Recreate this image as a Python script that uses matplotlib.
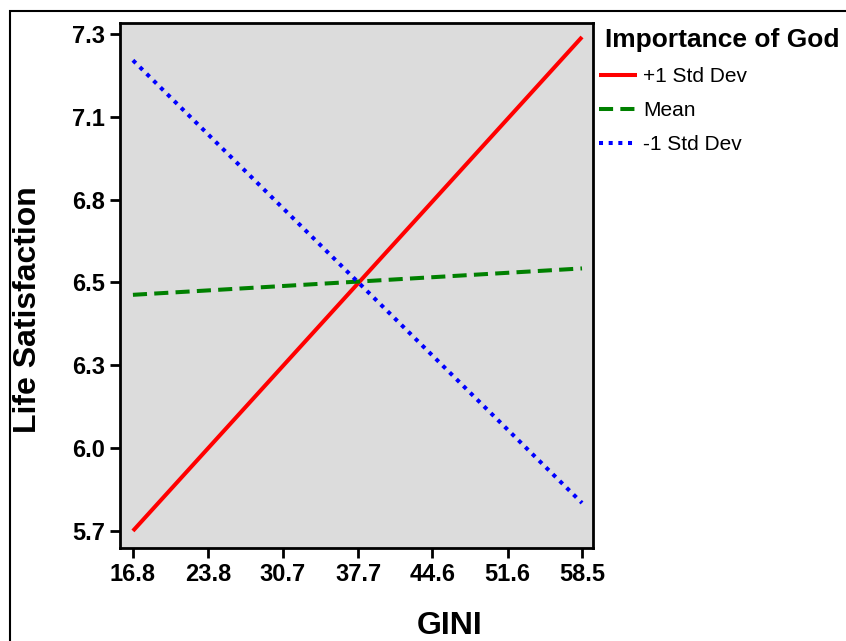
import matplotlib
matplotlib.use("Agg")
import matplotlib.pyplot as plt
import numpy as np
from matplotlib.patches import Rectangle

# Data
gini = [16.8, 58.5]
plus1 = [5.70, 7.29]
mean = [6.46, 6.545]
minus1 = [7.215, 5.79]
series_labels = ["+1 Std Dev", "Mean", "-1 Std Dev"]
x_ticks = [16.8, 23.8, 30.7, 37.7, 44.6, 51.6, 58.5]
y_tick_labels = ["5.7", "6.0", "6.3", "6.5", "6.8", "7.1", "7.3"]
y_tick_pos = list(np.linspace(5.7, 7.3, 7))

plt.rcParams['font.family'] = ['Liberation Sans', 'DejaVu Sans']

W, H = 846, 641
fig = plt.figure(figsize=(W/100, H/100), dpi=100)
ax = fig.add_axes([120/W, 1-548/H, (593-120)/W, (548-22.7)/H])
ax.set_facecolor('#DCDCDC')

ax.plot(gini, plus1, color='#FF0000', lw=2.9, ls='-', label=series_labels[0], solid_capstyle='butt')
ax.plot(gini, mean, color='#008000', lw=2.9, ls=(0, (3.5, 1.8)), label=series_labels[1])
ax.plot(gini, minus1, color='#0000FF', lw=2.9, ls=(0, (1, 1.4)), label=series_labels[2])

ax.set_xlim(15.6, 59.52)
ax.set_ylim(5.645, 7.336)
ax.set_xticks(x_ticks)
ax.set_xticklabels([f"{v:.1f}" for v in x_ticks], fontsize=17, fontweight='bold')
ax.set_yticks(y_tick_pos)
ax.set_yticklabels(y_tick_labels, fontsize=17, fontweight='bold')
ax.tick_params(direction='out', length=7, width=2, pad=4)
for s in ax.spines.values():
    s.set_linewidth(2)

ax.set_xlabel("GINI", fontsize=23, fontweight='bold')
ax.set_ylabel("Life Satisfaction", fontsize=23, fontweight='bold')
ax.xaxis.set_label_coords((450-120)/(593-120), -(611-548)/(548-22.7))
ax.yaxis.set_label_coords(-(120-43)/(593-120), 1-(310-22.7)/(548-22.7))

fig.text(605/W, 1-47/H, "Importance of God", fontsize=19, fontweight='bold',
         ha='left', va='baseline')
leg = fig.legend(loc='upper left', bbox_to_anchor=(599/W, 1-67/H), frameon=False,
                 fontsize=15, handlelength=1.82, handletextpad=0.3, labelspacing=0.72,
                 borderaxespad=0, borderpad=0)

fig.patches.append(Rectangle((10/W, -0.1), 1.2, 1 - 11/H + 0.1, transform=fig.transFigure,
                             fill=False, edgecolor='black', lw=1.5))

fig.savefig("out.png", dpi=100)
